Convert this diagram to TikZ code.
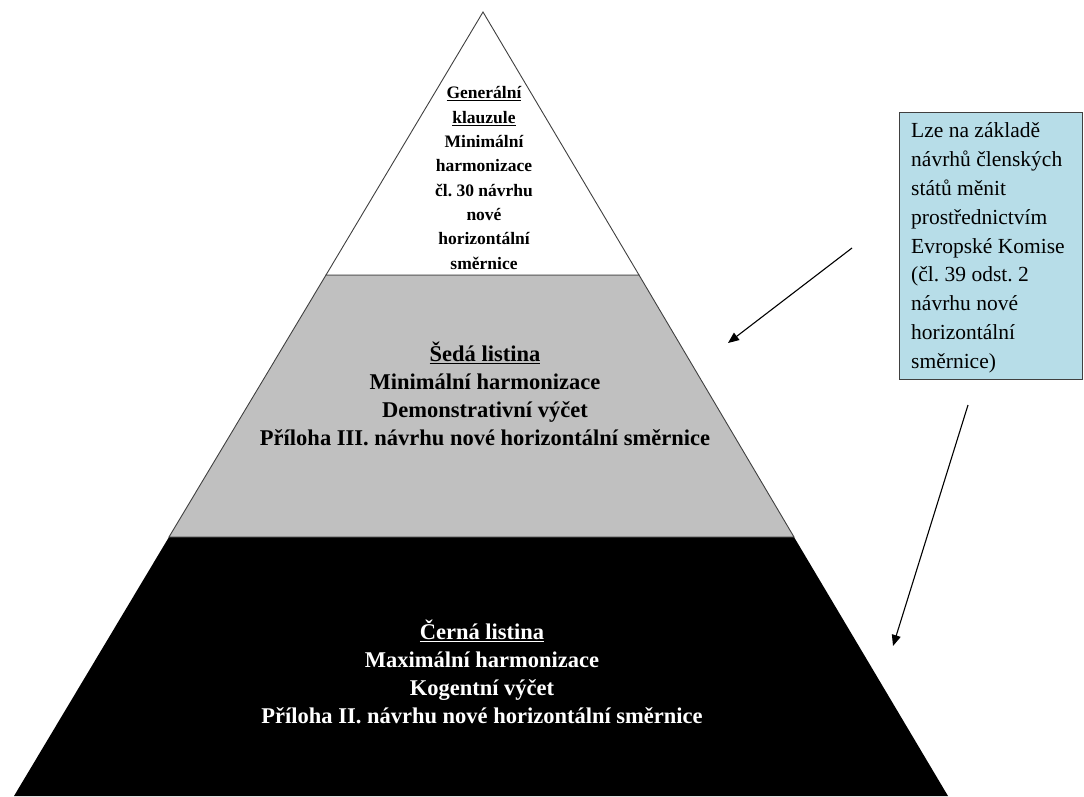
\documentclass[tikz,border=0pt]{standalone}
\usepackage{fontspec}
\setmainfont{Liberation Serif}
\usetikzlibrary{arrows.meta}
\definecolor{boxblue}{HTML}{B7DDE8}
\definecolor{edgegray}{HTML}{404040}
\definecolor{midgray}{HTML}{C0C0C0}
\frenchspacing
\begin{document}
\frenchspacing
\begin{tikzpicture}[x=1pt,y=-1pt,
  tier/.style={draw=edgegray, line width=0.9pt},
  toptext/.style={align=center, inner sep=0pt, font=\bfseries\fontsize{17.5}{24.3}\selectfont},
  tiertext/.style={align=center, inner sep=0pt, font=\bfseries\fontsize{22.5}{28.2}\selectfont},
  notebox/.style={draw=edgegray, fill=boxblue, line width=0.9pt, minimum width=183pt, minimum height=267pt, anchor=north west, inner sep=0pt},
  notetext/.style={align=left, inner sep=0pt, font=\fontsize{21.5}{28.8}\selectfont},
  arr/.style={-{Triangle[length=11pt,width=9pt]}, line width=1.1pt, black}]
\useasboundingbox (0,0) rectangle (1084,796);
% pyramid corners
\coordinate (apex) at (483,12);
\coordinate (bl) at (14,796);
\coordinate (br) at (948,796);
\coordinate (w1) at (326,275);
\coordinate (w2) at (639,275);
\coordinate (g1) at (169,537);
\coordinate (g2) at (794,537);
\fill[black] (g1) -- (g2) -- (br) -- (bl) -- cycle;
\filldraw[tier, fill=midgray] (w1) -- (w2) -- (g2) -- (g1) -- cycle;
\filldraw[tier, fill=white] (apex) -- (w2) -- (w1) -- cycle;
% texts
\node[toptext] (top) at (484,178) {\underline{Generální}\\\underline{klauzule}\\Minimální\\harmonizace\\čl. 30 návrhu\\nové\\horizontální\\směrnice};
\node[tiertext] (grey) at (485,394) {\underline{Šedá listina}\\Minimální harmonizace\\Demonstrativní výčet\\Příloha III. návrhu nové horizontální směrnice};
\node[tiertext, text=white] (black) at (482,672) {\underline{Černá listina}\\Maximální harmonizace\\Kogentní výčet\\Příloha II. návrhu nové horizontální směrnice};
% note box
\node[notebox] (note) at (899,112) {};
\node[notetext, anchor=west] (notetxt) at ([xshift=12pt,yshift=-2pt]note.west) {Lze na základě\\návrhů členských\\států měnit\\prostřednictvím\\Evropské Komise\\(čl. 39 odst. 2\\návrhu nové\\horizontální\\směrnice)};
% arrows
\coordinate (a1s) at (852,248);
\coordinate (a1e) at (728,343);
\coordinate (a2s) at (968,405);
\coordinate (a2e) at (893,646);
\draw[arr] (a1s) -- (a1e);
\draw[arr] (a2s) -- (a2e);
\end{tikzpicture}
\end{document}
